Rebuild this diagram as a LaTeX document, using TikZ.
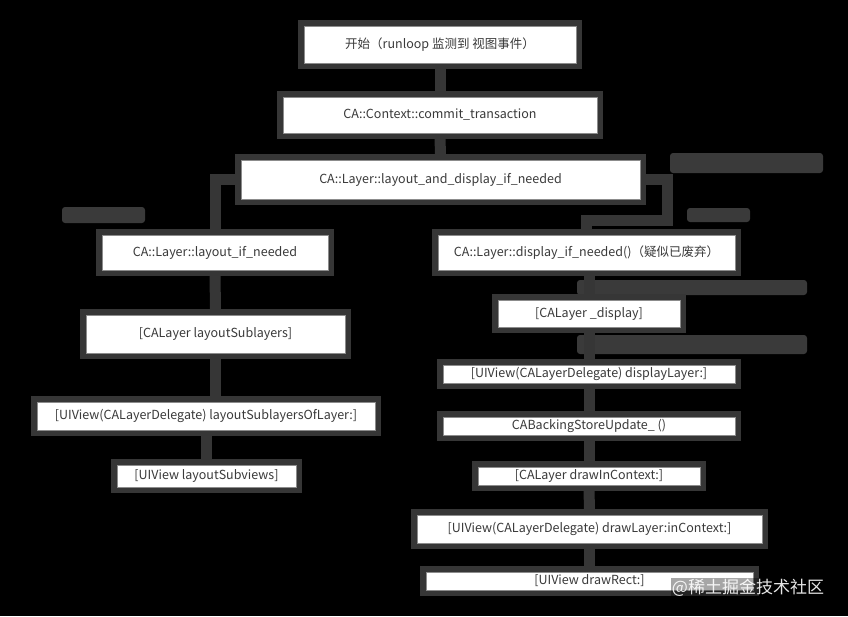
\documentclass[tikz,border=0pt]{standalone}
\usepackage{fontspec}
\setmainfont{Noto Sans CJK SC}
\usetikzlibrary{arrows.meta}
\pgfdeclarelayer{background}
\pgfsetlayers{background,main}
\definecolor{edge}{HTML}{363636}
\definecolor{rim}{HTML}{8C8C8C}
\definecolor{ink}{HTML}{3A3A3A}
\definecolor{tag}{HTML}{3A3A3A}
\begin{document}
\begin{tikzpicture}[x=1pt,y=-1pt,
  stepbox/.style={draw=rim, line width=0.8pt, fill=white, text=ink,
    font=\fontsize{12.5}{14}\selectfont, inner sep=0pt,
    preaction={draw=edge, line width=12pt}},
  link/.style={draw=edge, line width=11pt, line join=miter},
  tagblob/.style={fill=tag, rounded corners=3pt}]

% call chain boxes
\node[stepbox, minimum width=272pt, minimum height=37pt] (start) at (440,44.5) {开始（runloop 监测到 视图事件）};
\node[stepbox, minimum width=314pt, minimum height=36pt] (commit) at (440,115) {CA::Context::commit\_transaction};
\node[stepbox, minimum width=399pt, minimum height=39pt] (both) at (440.5,179.5) {CA::Layer::layout\_and\_display\_if\_needed};

% layout branch
\node[stepbox, minimum width=226pt, minimum height=35pt] (layout) at (215,252.5) {CA::Layer::layout\_if\_needed};
\node[stepbox, minimum width=259pt, minimum height=38pt] (sublayers) at (215.5,334) {[CALayer layoutSublayers]};
\node[stepbox, minimum width=338pt, minimum height=28pt] (ofLayer) at (206,416) {[UIView(CALayerDelegate) layoutSublayersOfLayer:]};
\node[stepbox, minimum width=179pt, minimum height=22pt] (subviews) at (206.5,476) {[UIView layoutSubviews]};

% display branch
\node[stepbox, minimum width=297pt, minimum height=35pt] (display) at (586.5,252.5) {CA::Layer::display\_if\_needed()（疑似已废弃）};
\node[stepbox, minimum width=182pt, minimum height=27pt] (priv) at (589,313.5) {[CALayer \_display]};
\node[stepbox, minimum width=292pt, minimum height=18pt] (dispLayer) at (589,374) {[UIView(CALayerDelegate) displayLayer:]};
\node[stepbox, minimum width=292pt, minimum height=18pt] (store) at (589,426) {CABackingStoreUpdate\_ ()};
\node[stepbox, minimum width=222pt, minimum height=18pt] (inCtx) at (589,476) {[CALayer drawInContext:]};
\node[stepbox, minimum width=345pt, minimum height=28pt] (drawLayer) at (589.5,529) {[UIView(CALayerDelegate) drawLayer:inContext:]};
\node[stepbox, minimum width=327pt, minimum height=18pt] (drawRect) at (589.5,581) {[UIView drawRect:]};

% corner watermark
\node[fill=black, fill opacity=0.35, text=white, text opacity=0.9, inner sep=1pt,
  font=\fontsize{17}{19}\selectfont] (mark) at (748,588) {@稀土掘金技术社区};

\begin{pgfonlayer}{background}
  \fill[black] (0,0) rectangle (848,616);
  \useasboundingbox (0,0) rectangle (848,616);
  % faint annotation strips
  \fill[tagblob] (62,207) rectangle (145,223);
  \fill[tagblob] (670,153) rectangle (823,173);
  \fill[tagblob] (687,208) rectangle (750,222);
  \fill[tagblob] (577,280) rectangle (807,295);
  \fill[tagblob] (577,335) rectangle (807,354);
  % connectors
  \draw[link] (start.south) -- (commit.north);
  \draw[link] (commit.south) -- (both.north);
  \draw[link] (both.west) -| (layout.north);
  \coordinate (turn) at (667,220);
  \draw[link] (both.east) -| (turn) -| (display.north);
  \draw[link] (layout.south) -- (sublayers.north);
  \draw[link] (sublayers.south) -- (sublayers.south |- ofLayer.north);
  \draw[link] (ofLayer.south) -- (ofLayer.south |- subviews.north);
  \draw[link] (display.south -| priv.north) -- (priv.north);
  \draw[link] (priv.south) -- (dispLayer.north);
  \draw[link] (dispLayer.south) -- (store.north);
  \draw[link] (store.south) -- (inCtx.north);
  \draw[link] (inCtx.south) -- (drawLayer.north);
  \draw[link] (drawLayer.south) -- (drawRect.north);
\end{pgfonlayer}
\end{tikzpicture}
\end{document}
